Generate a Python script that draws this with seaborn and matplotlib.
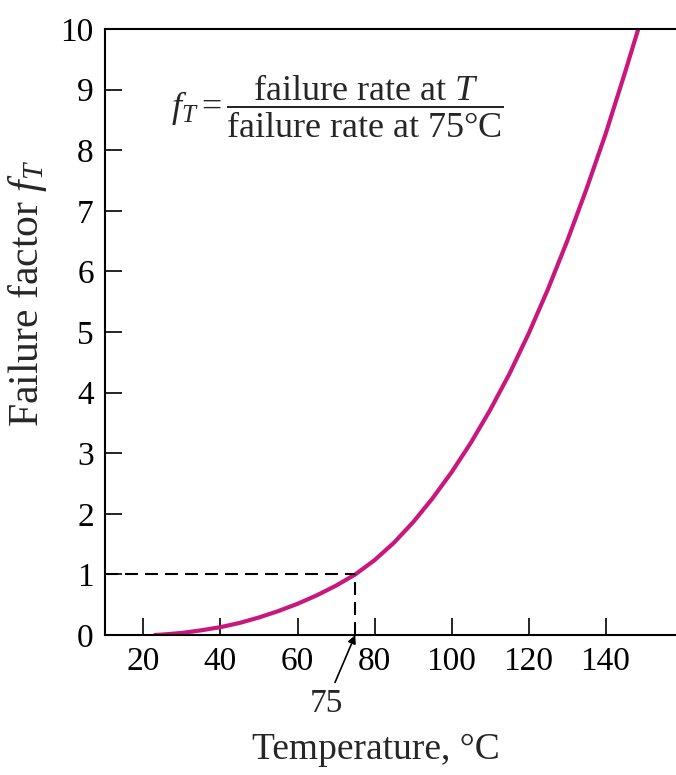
import matplotlib
matplotlib.use("Agg")
import matplotlib.pyplot as plt
import seaborn as sns
import pandas as pd

# values
temperature = [23, 25, 30, 35, 40, 45, 50, 55, 60, 65, 70, 75, 80, 85, 90, 95,
               100, 105, 110, 115, 120, 125, 130, 135, 140, 145, 148.5]
failure_factor = [0.0, 0.008, 0.035, 0.078, 0.13, 0.2, 0.29, 0.395, 0.515, 0.655,
                  0.815, 1.0, 1.235, 1.52, 1.86, 2.25, 2.685, 3.17, 3.71, 4.305,
                  4.97, 5.7, 6.495, 7.35, 8.265, 9.27, 10.0]

ref_temp = 75
ref_factor = 1
x_ticks = [20, 40, 60, 80, 100, 120, 140]
y_ticks = [0, 1, 2, 3, 4, 5, 6, 7, 8, 9, 10]


def main():
    sns.set_theme(style="ticks")
    plt.rcParams["font.family"] = ["Liberation Serif", "DejaVu Serif"]
    plt.rcParams["mathtext.fontset"] = "custom"
    plt.rcParams["mathtext.rm"] = "Liberation Serif"
    plt.rcParams["mathtext.it"] = "Liberation Serif:italic"
    plt.rcParams["mathtext.bf"] = "Liberation Serif:bold"

    df = pd.DataFrame({"T": temperature, "f": failure_factor})

    fig = plt.figure(figsize=(6.76, 7.75), dpi=100)
    ax = fig.add_axes([0.1553, 0.1806, 0.8447, 0.782])

    sns.lineplot(data=df, x="T", y="f", color="#c8187d", linewidth=3, ax=ax)

    ax.hlines(ref_factor, 10, ref_temp, colors="black", linestyles=(0, (6.2, 3.4)),
              linewidth=1.5)
    ax.vlines(ref_temp, 0, ref_factor, colors="black", linestyles=(0, (6.2, 3.4)),
              linewidth=1.5)

    ax.set_xlim(10, 158.3)
    ax.set_ylim(0, 10)
    ax.set_xticks(x_ticks)
    ax.set_yticks(y_ticks)
    ax.tick_params(direction="in", length=12, width=1.2, labelsize=24, pad=8,
                   colors="black")
    ax.spines["right"].set_visible(False)
    for s in ["left", "top", "bottom"]:
        ax.spines[s].set_linewidth(1.5)
        ax.spines[s].set_color("black")

    ax.set_xlabel("Temperature, °C", fontsize=27, va="center")
    ax.set_ylabel("Failure factor $f_T$", fontsize=30, va="center")
    ax.xaxis.set_label_coords(0.475, -0.19)
    ax.yaxis.set_label_coords(-0.135, 0.564)

    ax.annotate("75", xy=(ref_temp, 0), xytext=(67.4, -1.13), fontsize=24,
                ha="center", va="center", annotation_clip=False,
                arrowprops=dict(arrowstyle="-|>", color="black", lw=1.2,
                                shrinkA=2, shrinkB=0, mutation_scale=12))

    ax.text(0.407, 0.873,
            r"$f_T = \dfrac{\mathrm{failure\ rate\ at\ }T}{\mathrm{failure\ rate\ at\ 75°C}}$",
            transform=ax.transAxes, fontsize=26, ha="center", va="center")

    plt.savefig("out.png", dpi=100)


if __name__ == "__main__":
    main()
